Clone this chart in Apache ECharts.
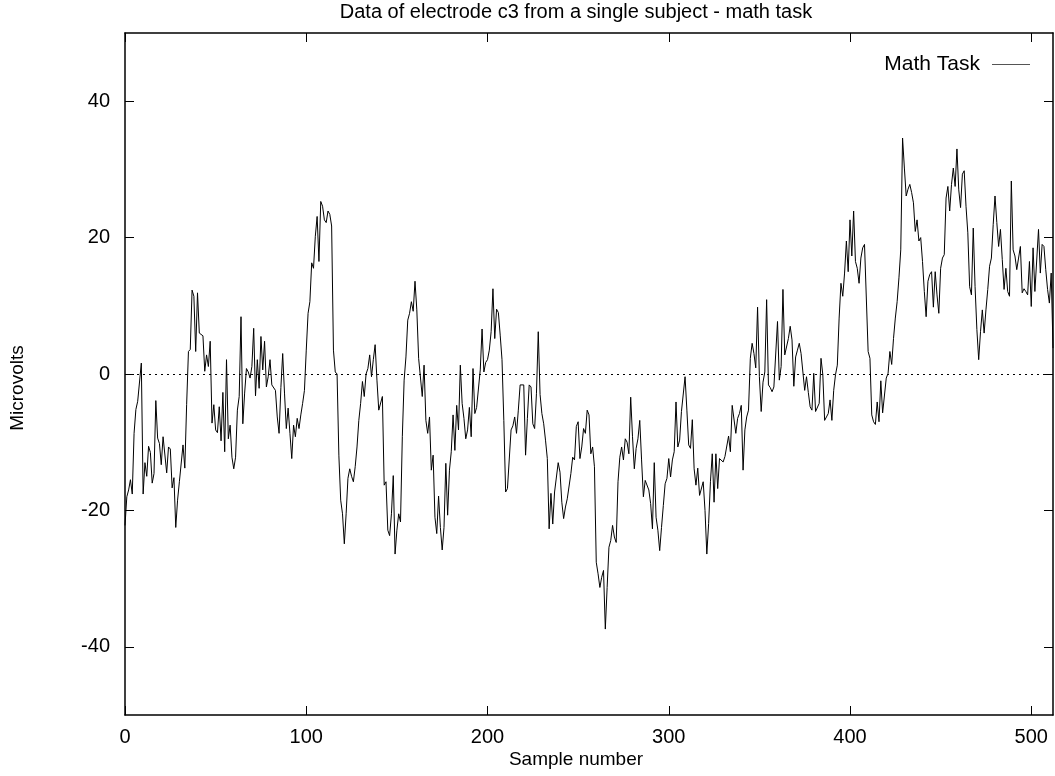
<!DOCTYPE html>
<html>
<head>
<meta charset="utf-8">
<script src="https://cdn.jsdelivr.net/npm/echarts@6/dist/echarts.min.js"></script>
<style>
  html, body { margin: 0; padding: 0; background: #fff; }
  #chart { width: 1055px; height: 776px; }
</style>
</head>
<body>
<div id="chart"></div>
<script>
const titleText = 'Data of electrode c3 from a single subject - math task';
const xAxisTitle = 'Sample number';
const yAxisTitle = 'Microvolts';
const seriesName = 'Math Task';
const xTicks = [0, 100, 200, 300, 400, 500];
const yTicks = [-40, -20, 0, 20, 40];
const xRange = [0, 512];
const yRange = [-50, 50];

// microvolt value at each sample number 0..512
const microvolts = [
  -22.2, -18, -17, -15.5, -17.6, -8.7, -5.2, -4, -4.2, 1.6,
  -17.6, -13, -15, -10.6, -11.5, -16, -14.6, -3.9, -9.4, -10.2,
  -13.3, -9.2, -9.3, -14.5, -10.7, -11, -16.7, -15.2, -22.5, -18.5,
  -15.8, -15.6, -10.4, -13.8, -4.5, 3.3, 3.6, 12.3, 11.4, 3.3,
  11.9, 6, 5.9, 5.6, 0.4, 2.8, 1.1, 4.8, -7.2, -4.5,
  -8.2, -8.6, -4.8, -9.8, -2.7, -11.4, 2.1, -9.5, -7.5, -12.2,
  -13.9, -12.2, -5.3, -3.3, 8.4, -7.3, -2.8, 0.8, 0.3, -0.6,
  1.1, 6.7, -3.2, 2.1, -2.1, 5.5, 0.6, 4.8, -1.9, -0.4,
  2.1, -1.6, -1.6, -2.4, -6.3, -8.7, -2, 3, -2.8, -8,
  -5, -8.7, -12.4, -7.5, -9.2, -6.5, -8, -6, -4.3, -2.4,
  3.5, 8.9, 10.6, 16.3, 15.5, 20.2, 23.1, 16.5, 25.3, 24.6,
  22.6, 22.2, 23.9, 23.4, 21.7, 3.5, 0.3, 0, -12, -18.5,
  -20.5, -24.9, -20.5, -15.3, -13.9, -15, -15.8, -13.6, -10.7, -6.8,
  -4.3, -1.1, -3.3, 0, 0.8, 2.8, -0.4, 2.1, 4.3, -0.9,
  -5.3, -5.5, -3.3, -16.3, -15.8, -22.9, -23.7, -20.5, -14.9, -26.4,
  -22.9, -20.5, -21.7, -9.2, -0.9, 2.5, 7.9, 8.9, 10.6, 9.2,
  13.6, 9.4, 2.3, 2.3, -3.3, 1.3, -6.8, -8.7, -6.3, -14.1,
  -11.9, -21, -23.4, -17.9, -22.5, -25.8, -22.5, -13.1, -20.7, -14.1,
  -11.4, -6, -11.2, -4.6, -8.2, 1.3, -4.3, -6.5, -9.5, -8.2,
  -4.9, -9.2, 0.8, -5.8, -4.9, -4.9, 0.6, 6.6, 0.3, 1.7,
  2.1, 3.5, 6.2, 12.5, 5.2, 9.5, 9, 5.7, 2.1, -6.8,
  -17.3, -16.8, -17, -8.2, -7.6, -6.3, -8.7, -5.3, -1.6, -1.4,
  -1.6, -11.9, -6.5, -1.6, -1.9, -7.3, -8, -2.9, 6.2, -3,
  -5.8, -7.3, -9.7, -12.4, -22.7, -17.5, -22, -17.3, -17.3, -13,
  -14.4, -18.8, -21.2, -19.5, -18.3, -18.1, -14.6, -12.2, -12.6, -7.7,
  -7, -12.4, -10.7, -8, -8.7, -5.3, -6, -11.7, -10.7, -13.6,
  -27.6, -29.3, -31.3, -29.8, -28.8, -37.4, -31.3, -25.4, -24.4, -22.2,
  -23.9, -24.7, -15.8, -12.2, -10.7, -12.6, -9.5, -10, -11.7, -3.4,
  -9.2, -13.9, -10.9, -9.5, -6.8, -12.6, -18, -15.6, -15.6, -17,
  -19, -22.7, -13, -21, -22.9, -25.9, -22.5, -19.3, -16.1, -15.3,
  -12.4, -15.1, -12.6, -11.4, -4.1, -10.7, -9.7, -5.5, -5.3, -0.4,
  -5.3, -10.4, -10.9, -6.7, -13.9, -16.3, -13.8, -17.8, -18, -15.8,
  -20, -26.4, -21.9, -15.8, -11.7, -18.8, -11.7, -16.8, -12.4, -12.2,
  -12.9, -12.1, -12.1, -9.1, -11.4, -4.6, -4.8, -8.7, -6.5, -5.8,
  -4.6, -14.1, -8.2, -6.3, -5.3, 2.3, 4.5, 3, 0.9, 9.8,
  -0.4, -5.5, -1.2, 0.3, 10.9, -1.6, -2, -2.6, -1.9, -1.9,
  7.7, -0.9, 1.1, 12.4, 2.8, 2.8, 5.2, 7, 5, -1.8,
  2.5, 3.5, 4.5, 3, 2.8, -2.4, -0.4, -2.7, -4.8, -5.3,
  0.1, -5.5, -5.3, -4.3, 2.3, -0.1, -6.8, -6.3, -5.8, -3.8,
  -6.8, -2.4, -0.1, 1.3, 8.2, 13.3, 11.4, 14.8, 19.5, 15,
  22.6, 17.3, 23.9, 16.5, 15.5, 13.3, 17, 18.5, 19, 19.2,
  3.3, 2.3, -6, -7, -7.4, -4.1, -7, -1, -5.7, -5.7,
  -0.6, 0.1, 3.3, 1.4, 5.2, 8.2, 10.6, 14.1, 18.2, 34.6,
  30.2, 26.1, 27.1, 27.8, 26.6, 25.1, 20.9, 22.6, 19.5, 20,
  16.5, 12.1, 8.4, 13.6, 14.6, 15, 9.8, 15, 11.6, 8.9,
  15.5, 17, 17.5, 25.8, 27.5, 23.9, 27.8, 30.2, 27.5, 33,
  27, 24.4, 29.3, 29.8, 24.6, 20.7, 12.8, 11.6, 21.4, 12.8,
  6.5, 2.1, 6.2, 9.4, 6, 9.4, 12.4, 15.8, 17, 21.9,
  26.1, 22.2, 18.7, 21.2, 16.8, 12.4, 15.5, 12.1, 11.4, 28.3,
  18.2, 17.3, 15.3, 17, 18.7, 11.9, 12.5, 12.1, 11.6, 16.5,
  9.9, 18.5, 12.1, 11.9, 21.2, 14.8, 19, 18.7, 15.3, 12.4,
  10.4, 14.8, 3.8
];

const seriesData = microvolts.map((v, i) => [i, v]);

const FONT = 'Liberation Sans';
const FS = 20;
const frame = { show: true, onZero: false, lineStyle: { color: '#000', width: 1.5 } };
const tick = (vals) => ({ show: true, inside: true, length: 9, customValues: vals, lineStyle: { color: '#000', width: 1 } });

const chart = echarts.init(document.getElementById('chart'), null, { renderer: 'canvas' });
chart.setOption({
  animation: false,
  backgroundColor: '#fff',
  textStyle: { fontFamily: FONT },
  grid: { left: 125, right: 2, top: 33, bottom: 61, containLabel: false },
  legend: {
    data: [seriesName],
    right: 25,
    top: 54,
    height: 24,
    padding: 0,
    align: 'right',
    orient: 'horizontal',
    itemWidth: 38,
    itemHeight: 1,
    icon: 'path://M0,0H38V1H0Z',
    itemStyle: { color: '#555', borderWidth: 0 },
    textStyle: { fontFamily: FONT, fontSize: 21, color: '#000', padding: [0, 7, 0, 0] }
  },
  xAxis: [
    {
      type: 'value', min: xRange[0], max: xRange[1], position: 'bottom',
      axisLine: frame, axisTick: tick(xTicks),
      axisLabel: { show: true, customValues: xTicks, fontFamily: FONT, fontSize: FS, color: '#000', margin: 12 },
      splitLine: { show: false }
    },
    {
      type: 'value', min: xRange[0], max: xRange[1], position: 'top',
      axisLine: frame, axisTick: tick(xTicks),
      axisLabel: { show: false },
      splitLine: { show: false }
    }
  ],
  yAxis: [
    {
      type: 'value', min: yRange[0], max: yRange[1], position: 'left',
      axisLine: frame, axisTick: tick(yTicks),
      axisLabel: { show: true, customValues: yTicks, fontFamily: FONT, fontSize: FS, color: '#000', margin: 15 },
      splitLine: { show: false }
    },
    {
      type: 'value', min: yRange[0], max: yRange[1], position: 'right',
      axisLine: frame, axisTick: tick(yTicks),
      axisLabel: { show: false },
      splitLine: { show: false }
    }
  ],
  graphic: [
    { type: 'text', x: 576, y: 12, style: { text: titleText, font: '20px "' + FONT + '"', fill: '#000', textAlign: 'center', textVerticalAlign: 'middle' } },
    { type: 'text', x: 576, y: 760, style: { text: xAxisTitle, font: '19px "' + FONT + '"', fill: '#000', textAlign: 'center', textVerticalAlign: 'middle' } },
    { type: 'text', x: 18, y: 388, rotation: Math.PI / 2, style: { text: yAxisTitle, font: '19px "' + FONT + '"', fill: '#000', textAlign: 'center', textVerticalAlign: 'middle' } }
  ],
  series: [
    {
      name: seriesName,
      type: 'line',
      xAxisIndex: 0,
      yAxisIndex: 0,
      data: seriesData,
      showSymbol: false,
      symbol: 'none',
      lineStyle: { color: '#000', width: 1 },
      itemStyle: { color: '#555' },
      markLine: {
        silent: true,
        symbol: 'none',
        label: { show: false },
        lineStyle: { color: '#000', width: 1, type: [2, 4] },
        data: [{ yAxis: 0 }]
      }
    }
  ]
});
</script>
</body>
</html>
